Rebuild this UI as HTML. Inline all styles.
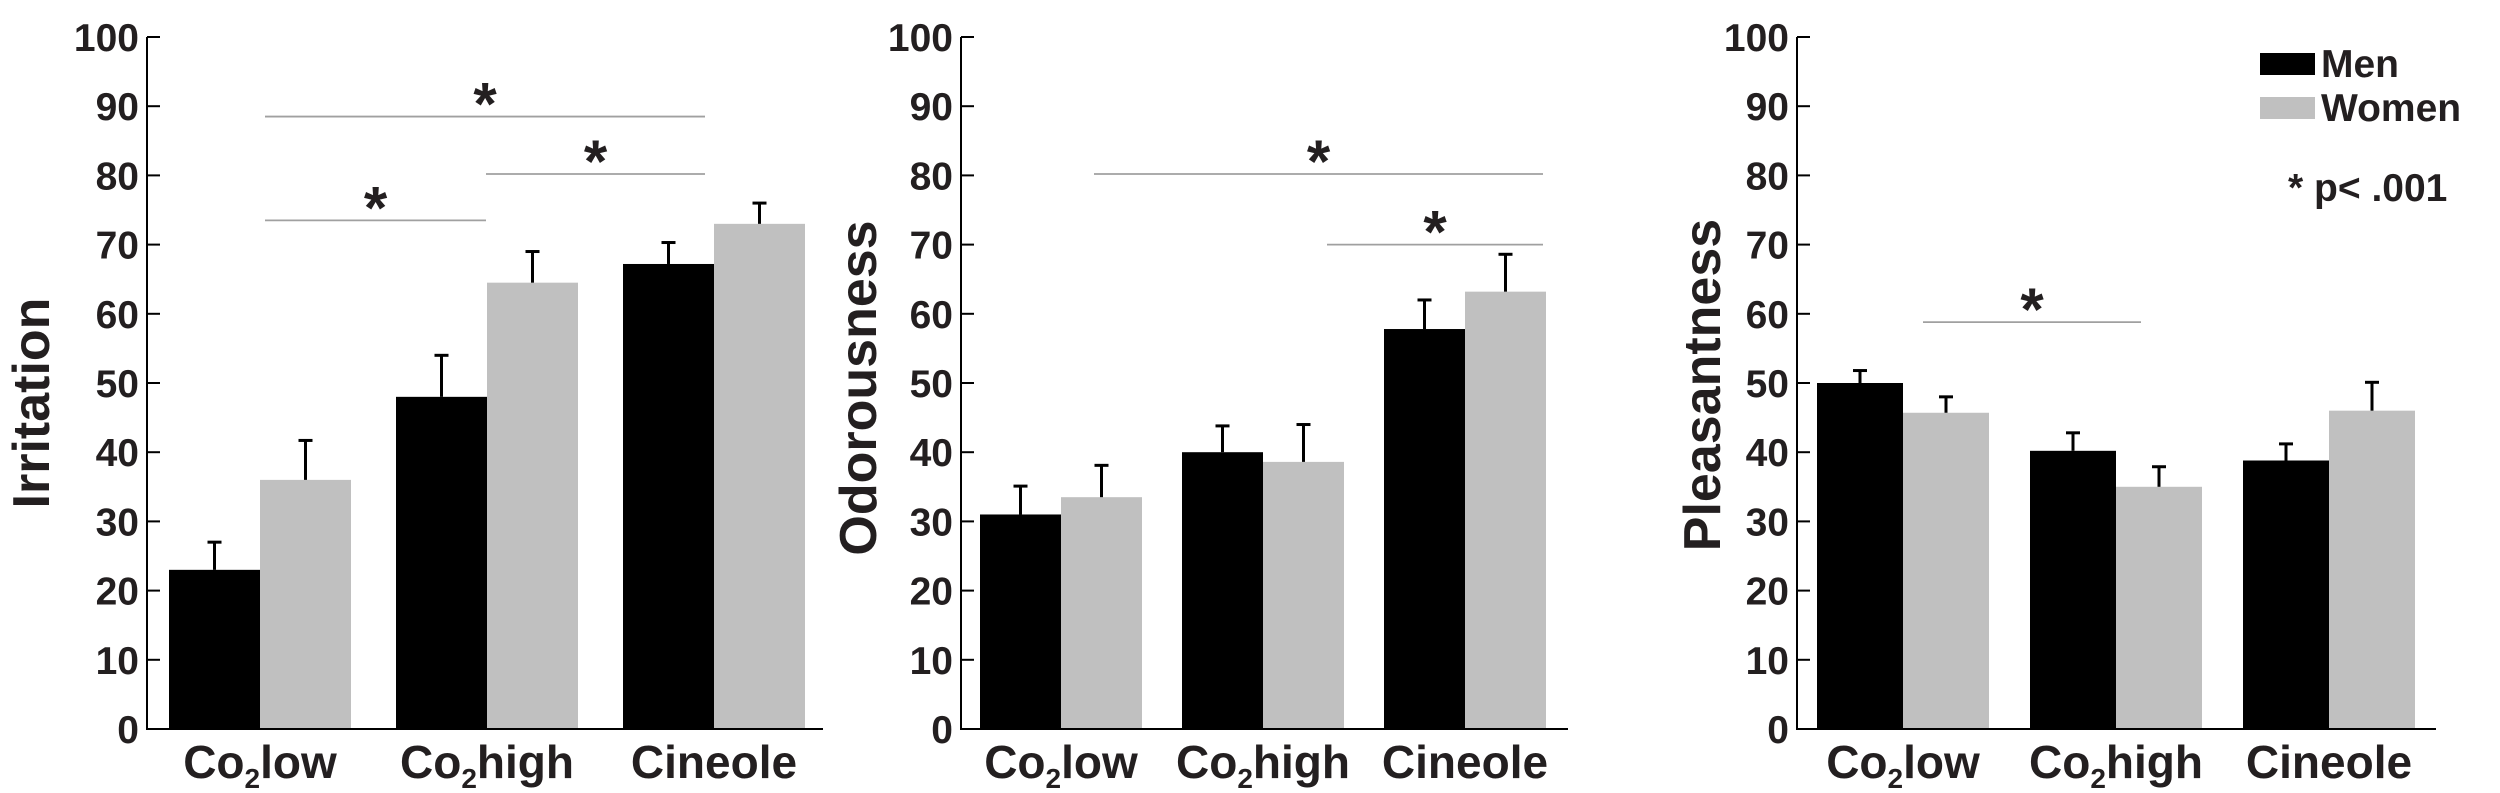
<!DOCTYPE html>
<html><head><meta charset="utf-8"><style>
html,body{margin:0;padding:0;background:#fff;}
svg{display:block;font-family:"Liberation Sans",Arial,sans-serif;font-weight:bold;}
</style></head><body>
<svg id="chart" width="2500" height="793" viewBox="0 0 2500 793" xmlns="http://www.w3.org/2000/svg"></svg>
<script>
const categories = ["Co2low", "Co2high", "Cineole"];
const yTicks = [0,10,20,30,40,50,60,70,80,90,100];
const irrMen = [23, 48, 67.2];
const irrWomen = [36, 64.5, 73];
const irrMenErr = [27, 54, 70.3];
const irrWomenErr = [41.7, 69, 76];
const odoMen = [31, 40, 57.8];
const odoWomen = [33.5, 38.6, 63.2];
const odoMenErr = [35.1, 43.8, 62];
const odoWomenErr = [38.1, 44, 68.6];
const plMen = [50, 40.2, 38.8];
const plWomen = [45.7, 35, 46];
const plMenErr = [51.8, 42.8, 41.2];
const plWomenErr = [48, 37.9, 50.1];
const irrSig = [[0,2,88.5],[1,2,80.2],[0,1,73.5]];
const odoSig = [[0,2,80.2],[1,2,70]];
const plSig = [[0,1,58.8]];

const NS = "http://www.w3.org/2000/svg";
const svg = document.getElementById("chart");
function mk(tag, attrs, parent){const e=document.createElementNS(NS,tag);for(const k in attrs)e.setAttribute(k,attrs[k]);(parent||svg).appendChild(e);return e;}

const panels = [
 {name:"irritation", title:"Irritation", ax:147, axEnd:823, x0:169, step:227, bw:91, tx:32, ty:403, men:irrMen, women:irrWomen, me:irrMenErr, we:irrWomenErr, sig:irrSig, sigL:[265,486], sigR:705},
 {name:"odorousness", title:"Odorousness", ax:961, axEnd:1568, x0:980, step:202, bw:81, tx:859, ty:388, men:odoMen, women:odoWomen, me:odoMenErr, we:odoWomenErr, sig:odoSig, sigL:[1094,1327], sigR:1543},
 {name:"pleasantness", title:"Pleasantness", ax:1797, axEnd:2436, x0:1817, step:213, bw:86, tx:1703, ty:385, men:plMen, women:plWomen, me:plMenErr, we:plWomenErr, sig:plSig, sigL:[1923,2141], sigR:2141}
];
const yTop=37, yZero=729;
function y(v){return yZero-(v/100)*(yZero-yTop);}

panels.forEach(p=>{
 const g=mk("g",{});
 
 
 function xBar(i,s){return p.x0+i*p.step+s*p.bw;}
 [[p.men,"#000",p.me,"men"],[p.women,"#c0c0c0",p.we,"women"]].forEach((sd,s)=>{
  sd[0].forEach((v,i)=>{
   const bx=xBar(i,s);
   const r=mk("rect",{x:bx,y:y(v),width:p.bw,height:y(0)-y(v),fill:sd[1]},g);
   
   
   const cx=bx+p.bw/2;
   const el=mk("line",{x1:cx,x2:cx,y1:y(v),y2:y(sd[2][i]),stroke:"#000","stroke-width":3},g);
   
   
   const cap=mk("line",{x1:cx-7,x2:cx+7,y1:y(sd[2][i]),y2:y(sd[2][i]),stroke:"#000","stroke-width":3},g);
   
   
  });
 });
 const ya=mk("line",{x1:p.ax,x2:p.ax,y1:yTop,y2:yZero+1,stroke:"#000","stroke-width":2},g);
 
 
 const xa=mk("line",{x1:p.ax,x2:p.axEnd,y1:yZero,y2:yZero,stroke:"#000","stroke-width":2},g);
 
 
 yTicks.forEach(t=>{
  const tk=mk("line",{x1:p.ax,x2:p.ax+13,y1:y(t),y2:y(t),stroke:"#000","stroke-width":2},g);
  
  
  const tl=mk("text",{x:p.ax-8,y:y(t)+14,"text-anchor":"end","font-size":39,fill:"#231f20"},g);
  tl.textContent=t;
  
  
 });
 categories.forEach((c,i)=>{
  const cx=p.x0+i*p.step+p.bw;
  const tl=mk("text",{x:cx,y:778,"text-anchor":"middle","font-size":46,fill:"#231f20"},g);
  
  
  if(c.startsWith("Co2")){
   const a=mk("tspan",{},tl);a.textContent="Co";
   const b=mk("tspan",{"font-size":28,dy:10},tl);b.textContent="2";
   const d=mk("tspan",{dy:-10},tl);d.textContent=c.slice(3);
  } else tl.textContent=c;
 });
 const tt=mk("text",{x:p.tx,y:p.ty,"text-anchor":"middle","dominant-baseline":"central","font-size":52,fill:"#231f20",transform:`rotate(-90 ${p.tx} ${p.ty})`},g);
 tt.textContent=p.title;
 
 
 p.sig.forEach(s=>{
  const x1=p.sigL[s[0]], x2=s[1]===2?p.sigR:p.sigL[s[1]];
  const ln=mk("line",{x1:x1,x2:x2,y1:y(s[2]),y2:y(s[2]),stroke:"#a0a0a0","stroke-width":1.8},g);
  
  
  const st=mk("text",{x:(x1+x2)/2,y:y(s[2])+8,"text-anchor":"middle","font-size":60,fill:"#231f20"},g);
  st.textContent="*";
  
  
 });
});
const lg=mk("g",{});


const r1=mk("rect",{x:2260,y:53,width:55,height:22,fill:"#000"},lg);


const t1=mk("text",{x:2321,y:77,"font-size":39,fill:"#231f20"},lg);t1.textContent="Men";


const r2=mk("rect",{x:2260,y:97,width:55,height:22,fill:"#c0c0c0"},lg);


const t2=mk("text",{x:2321,y:121,"font-size":39,fill:"#231f20"},lg);t2.textContent="Women";


const pn=mk("text",{x:2288,y:201,"font-size":39,fill:"#231f20"},lg);pn.textContent="* p< .001";


</script>
</body></html>
